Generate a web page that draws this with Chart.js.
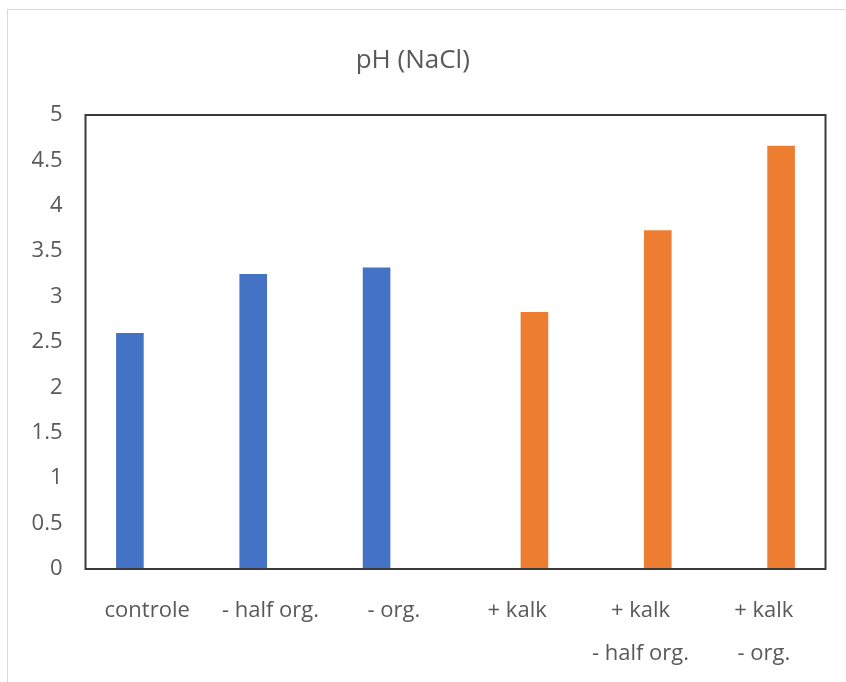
<!DOCTYPE html>
<html>
<head>
<meta charset="utf-8">
<script src="https://cdn.jsdelivr.net/npm/chart.js@4"></script>
<style>
html,body{margin:0;padding:0;background:#fff;}
#wrap{width:846px;height:682px;position:relative;}
</style>
</head>
<body>
<div id="wrap"><canvas id="c" width="846" height="682"></canvas></div>
<script>
const chartTitle = 'pH (NaCl)';
const categories = ['controle', '- half org.', '- org.', '+ kalk', ['+ kalk', '- half org.'], ['+ kalk', '- org.']];
const seriesBlue = [2.60, 3.25, 3.32, null, null, null];
const seriesOrange = [null, null, null, 2.83, 3.73, 4.66];
const yTickLabels = ['0', '0.5', '1', '1.5', '2', '2.5', '3', '3.5', '4', '4.5', '5'];

const textColor = '#595959';
const fontFamily = "'Open Sans', 'Noto Sans', sans-serif";

const framePlugin = {
  id: 'frames',
  beforeDraw(chart) {
    const ctx = chart.ctx;
    ctx.save();
    ctx.fillStyle = '#ffffff';
    ctx.fillRect(0, 0, chart.width, chart.height);
    ctx.strokeStyle = '#d9d9d9';
    ctx.lineWidth = 1;
    ctx.strokeRect(7.5, 9.5, chart.width, chart.height);
    ctx.restore();
  },
  afterDatasetsDraw(chart) {
    const a = chart.chartArea;
    const ctx = chart.ctx;
    ctx.save();
    ctx.strokeStyle = '#3a3a3a';
    ctx.lineWidth = 2;
    ctx.strokeRect(a.left, a.top, a.right - a.left, a.bottom - a.top);
    ctx.restore();
  }
};

new Chart(document.getElementById('c'), {
  type: 'bar',
  data: {
    labels: categories,
    datasets: [
      { label: 'A', data: seriesBlue, backgroundColor: '#4472C4', categoryPercentage: 0.56, barPercentage: 0.8 },
      { label: 'B', data: seriesOrange, backgroundColor: '#ED7D31', categoryPercentage: 0.56, barPercentage: 0.8 }
    ]
  },
  options: {
    responsive: false,
    animation: false,
    layout: { padding: { left: 0, right: 20.5, top: 0, bottom: 0 } },
    plugins: {
      legend: { display: false },
      tooltip: { enabled: false },
      title: {
        display: true,
        text: chartTitle,
        color: textColor,
        font: { family: fontFamily, size: 26, weight: 'normal', lineHeight: 1.2 },
        padding: { top: 45, bottom: 38.8 }
      }
    },
    scales: {
      x: {
        grid: { display: false, drawTicks: false },
        border: { display: false },
        ticks: {
          color: textColor,
          font: { family: fontFamily, size: 22, lineHeight: 1.95 },
          padding: 20,
          maxRotation: 0,
          autoSkip: false
        },
        afterFit(scale) { scale.height = 113; }
      },
      y: {
        min: 0,
        max: 5,
        grid: { display: false, drawTicks: false },
        border: { display: false },
        ticks: {
          stepSize: 0.5,
          color: textColor,
          font: { family: fontFamily, size: 22 },
          padding: 23,
          callback: (v, i) => yTickLabels[i]
        },
        afterFit(scale) { scale.width = 85.5; }
      }
    }
  },
  plugins: [framePlugin]
});
</script>
</body>
</html>
